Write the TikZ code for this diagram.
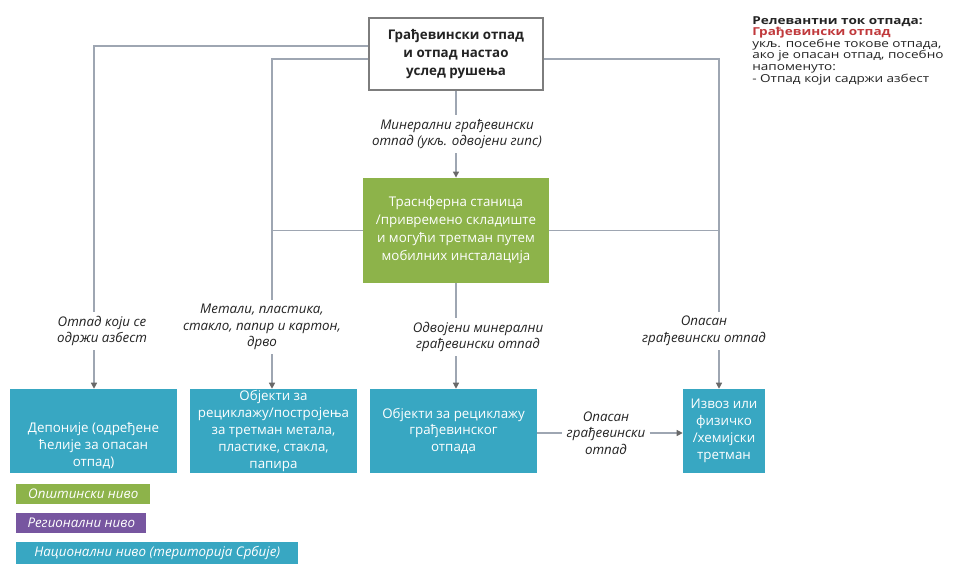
\documentclass[tikz,border=0pt]{standalone}
\usepackage{fontspec}
\setmainfont{Open Sans}
\usepackage{tikz}
\usetikzlibrary{arrows.meta,positioning}

\definecolor{munigreen}{RGB}{141,179,74}
\definecolor{regpurple}{RGB}{119,86,160}
\definecolor{natblue}{RGB}{56,167,194}
\definecolor{linegray}{RGB}{158,166,178}
\definecolor{boxgray}{RGB}{125,125,125}
\definecolor{tipgray}{RGB}{105,105,105}
\definecolor{flowred}{RGB}{192,57,60}
\definecolor{txtgray}{RGB}{35,35,35}

\tikzset{
  flow/.style={draw=linegray, line width=0.9pt},
  arr/.style={flow, -{Triangle[length=4.5pt, width=4.5pt, color=tipgray]}},
  topbox/.style={draw=boxgray, line width=1.3pt, fill=white, align=center,
    minimum width=131pt, minimum height=54pt, text=txtgray,
    font=\fontsize{10}{13.5}\selectfont\bfseries},
  greenbox/.style={fill=munigreen, text=white, align=center,
    minimum width=139pt, minimum height=79pt,
    font=\fontsize{10}{13.5}\selectfont},
  bluebox/.style={fill=natblue, text=white, align=center,
    minimum width=125pt, minimum height=63pt, inner sep=1pt,
    font=\fontsize{10}{12.6}\selectfont},
  boxtext/.style={text=white, align=center, inner sep=3pt,
    font=\fontsize{10}{12.6}\selectfont},
  flowlabel/.style={align=center, fill=white, inner sep=3pt, text=txtgray,
    font=\fontsize{10}{12.5}\selectfont\itshape},
  lvl/.style={anchor=west, text=white, minimum height=15pt, inner xsep=4pt,
    font=\fontsize{10}{12}\selectfont\itshape}
}

\begin{document}
\begin{tikzpicture}[x=0.75pt,y=-0.75pt]
  \useasboundingbox (0,0) rectangle (954,565);
  %--------------- source --------------- 
  \node[topbox] (top) at (456,54) {Грађевински отпад\\и отпад настао\\услед рушења};
  %--------------- transfer station --------------- 
  \node[greenbox] (trans) at (456,230.5) {Траснферна станица\\/привремено складиште\\и могући третман путем\\мобилних инсталација};
  %--------------- final treatment --------------- 
  \node[bluebox] (dep) at (93.5,431) {};
  \node[boxtext, anchor=south] (deptxt) at (dep.south) {Депоније (одређене\\ћелије за опасан\\отпад)};
  \node[bluebox] (rec) at (273.5,431) {Објекти за\\рециклажу/постројења\\за третман метала,\\пластике, стакла,\\папира};
  \node[bluebox] (grd) at (453.5,431) {Објекти за рециклажу\\грађевинског\\отпада};
  \node[bluebox, minimum width=61.5pt] (izv) at (724,431) {Извоз или\\физичко\\/хемијски\\третман};
  %--------------- flow labels --------------- 
  \node[flowlabel] (min) at (457,134) {Минерални грађевински\\отпад (укљ. одвојени гипс)};
  \node[flowlabel] (asb) at (102,331) {Отпад који се\\одржи азбест};
  \node[flowlabel] (met) at (262,327) {Метали, пластика,\\стакло, папир и картон,\\дрво};
  \node[flowlabel] (odv) at (478,337) {Одвојени минерални\\грађевински отпад};
  \node[flowlabel] (opa) at (704,331) {Опасан\\грађевински отпад};
  \node[flowlabel] (haz) at (606,433) {Опасан\\грађевински\\отпад};
  %--------------- legend --------------- 
  \node[anchor=north west, align=left, inner sep=0pt, text=txtgray,
    font=\fontsize{8.2}{8.7}\selectfont\addfontfeature{FakeStretch=1.24}] (rel) at (752,16)
    {\lineskiplimit=-20pt\relax
     \textbf{Релевантни ток отпада:}\\
     \textcolor{flowred}{\textbf{Грађевински отпад}}\\
     укљ. посебне токове отпада,\\
     ако је опасан отпад, посебно\\
     напоменуто:\\
     - Отпад који садржи азбест};
  \node[lvl, fill=munigreen, minimum width=100.5pt] (lvlmun) at (16,493.5) {Општински ниво};
  \node[lvl, fill=regpurple, minimum width=97.5pt] (lvlreg) at (16,523) {Регионални ниво};
  \node[lvl, fill=natblue, minimum width=211.5pt] (lvlnat) at (16,553) {Национални ниво (територија Србије)};
  %--------------- connectors --------------- 
  \coordinate (cl) at (94,46);
  \coordinate (cm) at (272,59);
  \coordinate (cr) at (719,59);
  % top -> landfill
  \draw[flow] (top.west |- cl) -- (cl) -- (cl |- asb.north);
  \draw[arr] (cl |- asb.south) -- (cl |- dep.north);
  % top -> recycling
  \draw[flow] (top.west |- cm) -- (cm) -- (cm |- met.north);
  \draw[flow] (trans.west) -- (trans.west -| cm);
  \draw[arr] (cm |- met.south) -- (cm |- rec.north);
  % top -> transfer -> mineral recycling
  \draw[flow] (top.south) -- (top.south |- min.north);
  \draw[arr] (top.south |- min.south) -- (trans.north);
  \draw[flow] (trans.south) -- (trans.south |- odv.north);
  \draw[arr] (trans.south |- odv.south) -- (trans.south |- grd.north);
  % top -> export
  \draw[flow] (top.east |- cr) -- (cr) -- (cr |- opa.north);
  \draw[flow] (trans.east) -- (trans.east -| cr);
  \draw[arr] (cr |- opa.south) -- (cr |- izv.north);
  % mineral recycling -> export
  \draw[flow] (grd.east |- haz) -- (haz.west);
  \draw[arr] (haz.east) -- (izv.west |- haz);
\end{tikzpicture}
\end{document}
